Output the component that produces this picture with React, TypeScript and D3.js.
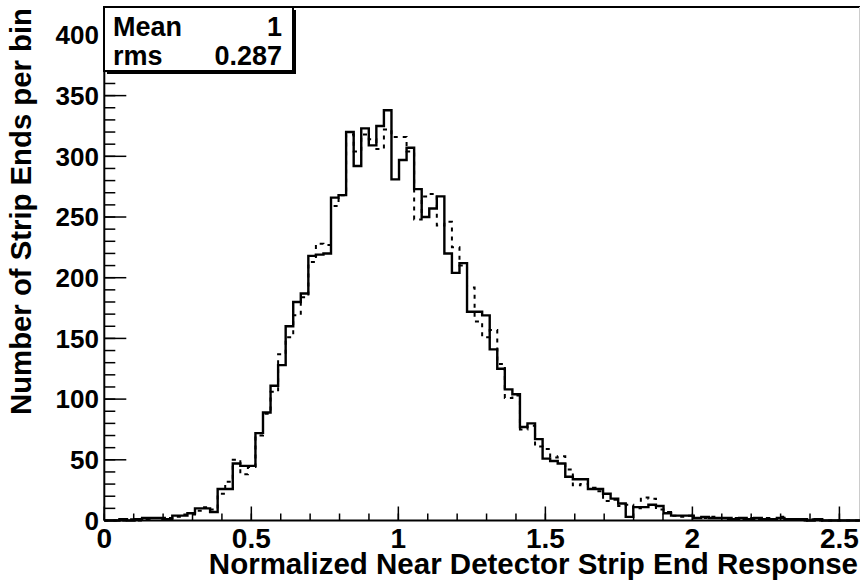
import React from "react";
import * as d3 from "d3";

const X_MIN = 0;
const X_MAX = 2.57;
const Y_MAX = 423;
const N_BINS = 100;

const solidCounts = [
  0, 0, 1, 0, 1, 2, 2, 2, 1, 4,
  4, 6, 10, 10, 7, 26, 26, 47, 45, 45,
  72, 89, 111, 128, 160, 180, 187, 218, 219, 220,
  266, 268, 320, 292, 323, 309, 325, 338, 281, 297,
  307, 273, 250, 257, 267, 220, 204, 212, 172, 172,
  169, 141, 125, 108, 104, 77, 80, 67, 51, 49,
  47, 36, 34, 34, 26, 26, 22, 18, 14, 3,
  11, 11, 13, 12, 6, 4, 4, 4, 2, 3,
  2, 2, 2, 1, 2, 1, 2, 1, 1, 2,
  1, 1, 1, 0, 1, 0, 0, 0, 0, 0,
];

const dashedCounts = [
  0, 0, 0, 1, 0, 1, 2, 1, 2, 3,
  5, 5, 8, 11, 9, 22, 32, 50, 38, 44,
  70, 88, 106, 137, 151, 169, 184, 213, 228, 227,
  259, 268, 318, 304, 318, 314, 306, 322, 316, 316,
  304, 248, 267, 269, 243, 246, 225, 210, 192, 164,
  151, 157, 129, 101, 103, 75, 78, 61, 59, 52,
  53, 42, 29, 30, 27, 24, 16, 17, 12, 13,
  10, 19, 18, 9, 7, 4, 3, 4, 2, 2,
  3, 2, 1, 2, 1, 2, 1, 2, 1, 3,
  1, 1, 0, 1, 0, 0, 0, 0, 0, 0,
];

const xMajorTicks = [0, 0.5, 1, 1.5, 2, 2.5];
const xTickLabels = ["0", "0.5", "1", "1.5", "2", "2.5"];
const yMajorTicks = [0, 50, 100, 150, 200, 250, 300, 350, 400];
const yTickLabels = ["0", "50", "100", "150", "200", "250", "300", "350", "400"];

const xTitle = "Normalized Near Detector Strip End Response";
const yTitle = "Number of Strip Ends per bin";
const statNames = ["Mean", "rms"];
const statValues = ["1", "0.287"];

const FONT = "'Liberation Sans', Arial, Helvetica, sans-serif";

export default function App() {
  const W = 861;
  const H = 584;
  const left = 104.3;
  const right = 860;
  const top = 7;
  const bottom = 520.5;

  const x = d3.scaleLinear().domain([X_MIN, X_MAX]).range([left, right]);
  const y = d3.scaleLinear().domain([0, Y_MAX]).range([bottom, top]);
  const bw = (X_MAX - X_MIN) / N_BINS;

  const stepPath = (counts: number[]) => {
    const pts: [number, number][] = [];
    pts.push([x(X_MIN), y(0)]);
    counts.forEach((c, i) => {
      pts.push([x(X_MIN + i * bw), y(c)]);
      pts.push([x(X_MIN + (i + 1) * bw), y(c)]);
    });
    pts.push([x(X_MIN + counts.length * bw), y(0)]);
    return d3.line()(pts) || "";
  };

  const xMinor = d3.range(0, 26).map((i) => i * 0.1).filter((v) => v <= X_MAX);
  const yMinor = d3.range(0, 43).map((i) => i * 10).filter((v) => v <= Y_MAX);

  const boxX = 104;
  const boxY = 7;
  const boxW = 189;
  const boxH = 64;

  return (
    <svg
      width={W}
      height={H}
      style={{ position: "absolute", left: 0, top: 0, background: "#fff" }}
      fontFamily={FONT}
      fontWeight="bold"
    >
      <rect x={0} y={0} width={W} height={H} fill="#fff" />
      {/* frame */}
      <line x1={left} x2={right} y1={top} y2={top} stroke="#000" strokeWidth={2} />
      <line x1={right - 0.5} x2={right - 0.5} y1={top} y2={bottom} stroke="#ccc" strokeWidth={1} />

      {/* histograms */}
      <path d={stepPath(dashedCounts)} fill="none" stroke="#000" strokeWidth={2} strokeDasharray="4,5" />
      <path d={stepPath(solidCounts)} fill="none" stroke="#000" strokeWidth={2.4} strokeLinejoin="miter" />

      {/* axes */}
      <line x1={left} x2={right} y1={bottom} y2={bottom} stroke="#000" strokeWidth={2} />
      <line x1={left} x2={left} y1={top} y2={bottom} stroke="#000" strokeWidth={2} />

      {xMinor.map((v, i) => (
        <line key={"xm" + i} x1={x(v)} x2={x(v)} y1={bottom} y2={bottom - 7} stroke="#000" strokeWidth={1.5} />
      ))}
      {xMajorTicks.map((v, i) => (
        <line key={"xM" + i} x1={x(v)} x2={x(v)} y1={bottom} y2={bottom - 14} stroke="#000" strokeWidth={1.5} />
      ))}
      {yMinor.map((v, i) => (
        <line key={"ym" + i} x1={left} x2={left + 11} y1={y(v)} y2={y(v)} stroke="#000" strokeWidth={1.5} />
      ))}
      {yMajorTicks.map((v, i) => (
        <line key={"yM" + i} x1={left} x2={left + 22} y1={y(v)} y2={y(v)} stroke="#000" strokeWidth={1.5} />
      ))}

      {xMajorTicks.map((v, i) => (
        <text key={"xl" + i} x={x(v)} y={548} fontSize={28} textAnchor="middle">
          {xTickLabels[i]}
        </text>
      ))}
      {yMajorTicks.map((v, i) => (
        <text key={"yl" + i} x={99} y={y(v)} dy="0.36em" fontSize={26} textAnchor="end">
          {yTickLabels[i]}
        </text>
      ))}

      <text x={858} y={574} fontSize={29.5} textAnchor="end">
        {xTitle}
      </text>
      <text transform="translate(31,8) rotate(-90)" fontSize={29.3} textAnchor="end">
        {yTitle}
      </text>

      {/* stats box */}
      <rect x={boxX + 3} y={boxY + 3} width={boxW} height={boxH} fill="#000" />
      <rect x={boxX} y={boxY} width={boxW} height={boxH} fill="#fff" stroke="#000" strokeWidth={2} />
      {statNames.map((n, i) => (
        <g key={"st" + i}>
          <text x={boxX + 9} y={36 + i * 29} fontSize={27}>
            {n}
          </text>
          <text x={boxX + boxW - 11} y={36 + i * 29} fontSize={27} textAnchor="end">
            {statValues[i]}
          </text>
        </g>
      ))}
    </svg>
  );
}
